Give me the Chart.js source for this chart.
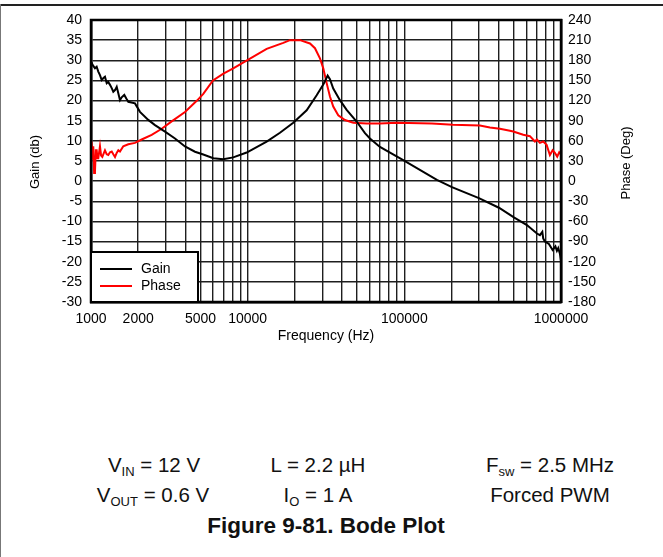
<!DOCTYPE html>
<html>
<head>
<meta charset="utf-8">
<script src="https://cdn.jsdelivr.net/npm/chart.js@4.4.1/dist/chart.umd.min.js"></script>
<style>
  body { margin: 0; background: #fff; width: 663px; height: 557px; position: relative; overflow: hidden;
         font-family: "Liberation Sans", Arial, sans-serif; color: #111; }
  #frameTop { position: absolute; left: 0; top: 4px; width: 663px; height: 2px; background: #222; }
  #frameLeft { position: absolute; left: 0; top: 4px; width: 1px; height: 553px; background: #777; }
  #chart { position: absolute; left: 0; top: 0; }
  .cond { position: absolute; font-size: 20.5px; line-height: 24px; white-space: nowrap; transform: translateX(-50%); }
  .cond sub { font-size: 13px; vertical-align: baseline; position: relative; top: 4px; }
  .title { font-weight: bold; font-size: 22.5px; }
</style>
</head>
<body>
<div id="frameTop"></div>
<div id="frameLeft"></div>
<canvas id="chart" width="663" height="350"></canvas>

<div class="cond" style="left:154px; top:453px">V<sub>IN</sub> = 12 V</div>
<div class="cond" style="left:318px; top:453px">L = 2.2 µH</div>
<div class="cond" style="left:550px; top:453px">F<sub>sw</sub> = 2.5 MHz</div>
<div class="cond" style="left:153px; top:483px">V<sub>OUT</sub> = 0.6 V</div>
<div class="cond" style="left:318px; top:483px">I<sub>O</sub> = 1 A</div>
<div class="cond" style="left:550px; top:483px">Forced PWM</div>
<div class="cond title" style="left:326px; top:514px">Figure 9-81. Bode Plot</div>

<script>
// 게인 곡선 (Hz, dB) - 그림에서 읽은 값
const gainFreq = [1000, 1010, 1034, 1060, 1087, 1113, 1141, 1170, 1200, 1228, 1260, 1289, 1322, 1356, 1388,
  1423, 1459, 1494, 1531, 1570, 1631, 1680, 1730, 1909, 2054, 2321, 2561, 2967, 3436, 3980, 4610, 5208,
  6033, 6988, 8091, 9853, 13220, 16076, 19543, 23800, 27570, 30380, 31150, 32400, 33510, 35180, 38810,
  42840, 49610, 56070, 60320, 69890, 98400, 161400, 201300, 299200, 401600, 500500, 605900, 701900,
  733500, 760000, 769900, 789400, 837100, 884000, 921200, 941700, 960000, 984000, 1000000];
const gainDb = [29.6, 29.3, 28.6, 28.0, 28.4, 27.2, 26.3, 25.1, 25.6, 25.9, 24.3, 24.6, 23.9, 23.1, 22.2,
  22.6, 23.4, 21.8, 20.1, 20.8, 21.4, 20.5, 19.7, 19.3, 17.2, 15.2, 13.9, 12.3, 10.6, 8.6, 7.3, 6.6,
  5.7, 5.45, 5.9, 7.1, 9.8, 12.0, 14.5, 17.6, 21.3, 24.0, 24.8, 26.2, 25.3, 23.0, 20.1,
  17.7, 14.8, 11.9, 10.6, 8.5, 5.2, 0.3, -1.5, -4.2, -6.6, -9.0, -10.9, -13.0,
  -13.4, -12.6, -14.2, -15.0, -15.6, -17.1, -16.2, -17.3, -16.6, -18.0, -19.8];

// 위상 곡선 (Hz, deg)
const phaseFreq = [1000, 1005, 1010, 1022, 1034, 1047, 1060, 1073, 1087, 1100, 1113, 1141, 1160, 1181, 1228,
  1260, 1289, 1322, 1356, 1388, 1423, 1459, 1494, 1531, 1607, 1730, 1909, 2106, 2440, 2827, 3273, 3980,
  4749, 5208, 6006, 7000, 8091, 9897, 13220, 16876, 18620, 21570, 24982, 26887, 28930, 30380, 31930, 33510,
  35180, 37860, 41780, 47200, 57450, 69890, 89700, 150000, 204300, 303700, 351800, 407400, 472000,
  495400, 574000, 633200, 681300, 701900, 733500, 769900, 809300, 849500, 884000, 914400, 945800,
  973900, 1000000];
const phaseDeg = [58, 36, 59, 32, 52, 12, 14, 46, 46, 34, 34, 52, 38, 36, 46,
  40, 39, 43, 44, 40, 36, 42, 46, 44, 52, 55, 57, 62, 69, 78, 89, 103,
  120, 130, 150, 160, 168, 180, 197, 206, 210, 210, 205, 198, 183, 168, 146, 126,
  111, 98, 91, 87, 86, 86, 87, 86, 84, 83, 80, 78, 75,
  74, 69, 67, 59, 62, 57, 59, 54, 39, 46, 42, 36.5,
  43, 40];

const xTickLabels = [1000, 2000, 5000, 10000, 100000, 1000000];
const gainMin = -30, gainMax = 40, gainStep = 5;
const phaseMin = -180, phaseMax = 240, phaseStep = 30;
const seriesNames = ['Gain', 'Phase'];
const seriesColors = ['#000000', '#ff0000'];
const axisTitles = ['Frequency (Hz)', 'Gain (db)', 'Phase (Deg)'];

// 로그 격자 (1..9 x 10^n)
const gridFreqs = [];
for (let d = 1000; d < 1000000; d *= 10) {
  for (let m = 1; m < 10; m++) gridFreqs.push(m * d);
}
gridFreqs.push(1000000);

function toPoints(xs, ys) {
  return xs.map((x, i) => ({ x: x, y: ys[i] }));
}

const font = 'Liberation Sans, Arial, sans-serif';

// 테두리, 축 제목, 범례를 직접 그리는 플러그인
const framePlugin = {
  id: 'frame',
  afterDraw(chart) {
    const ctx = chart.ctx;
    const a = chart.chartArea;
    ctx.save();
    ctx.strokeStyle = '#000';
    ctx.lineWidth = 2.5;
    ctx.strokeRect(a.left, a.top, a.right - a.left, a.bottom - a.top);

    // 축 제목 (세로, 아래에서 위로)
    ctx.fillStyle = '#000';
    ctx.font = '13px ' + font;
    ctx.textAlign = 'center';
    ctx.textBaseline = 'middle';
    ctx.save();
    ctx.translate(35, 162);
    ctx.rotate(-Math.PI / 2);
    ctx.fillText(axisTitles[1], 0, 0);
    ctx.restore();
    ctx.save();
    ctx.translate(626, 163);
    ctx.rotate(-Math.PI / 2);
    ctx.fillText(axisTitles[2], 0, 0);
    ctx.restore();

    // 범례
    const bx = a.left, by = a.bottom - 50, bw = 107, bh = 50;
    ctx.fillStyle = '#fff';
    ctx.fillRect(bx, by, bw, bh);
    ctx.lineWidth = 2;
    ctx.strokeStyle = '#000';
    ctx.strokeRect(bx, by, bw, bh);
    ctx.font = '14px ' + font;
    ctx.textAlign = 'left';
    seriesNames.forEach((name, i) => {
      const y = by + 17 + i * 17;
      ctx.strokeStyle = seriesColors[i];
      ctx.lineWidth = 2;
      ctx.beginPath();
      ctx.moveTo(bx + 9, y);
      ctx.lineTo(bx + 41, y);
      ctx.stroke();
      ctx.fillStyle = '#000';
      ctx.fillText(name, bx + 50, y);
    });
    ctx.restore();
  }
};

new Chart(document.getElementById('chart'), {
  type: 'line',
  data: {
    datasets: [
      { label: seriesNames[0], data: toPoints(gainFreq, gainDb), borderColor: seriesColors[0],
        borderWidth: 2, pointRadius: 0, tension: 0, yAxisID: 'y' },
      { label: seriesNames[1], data: toPoints(phaseFreq, phaseDeg), borderColor: seriesColors[1],
        borderWidth: 2, pointRadius: 0, tension: 0, yAxisID: 'y1' }
    ]
  },
  options: {
    responsive: false,
    animation: false,
    layout: { padding: { top: 20, left: 0, right: 0, bottom: 0 } },
    plugins: { legend: { display: false }, tooltip: { enabled: false } },
    scales: {
      x: {
        type: 'logarithmic', min: 1000, max: 1000000,
        afterBuildTicks: (scale) => { scale.ticks = gridFreqs.map(v => ({ value: v })); },
        ticks: {
          autoSkip: false, maxRotation: 0, minRotation: 0, color: '#000', padding: 9,
          font: { size: 14, family: font },
          callback: (v) => xTickLabels.includes(Math.round(v)) ? String(Math.round(v)) : ''
        },
        grid: { color: '#1e1e1e', lineWidth: 1.4, drawTicks: false },
        border: { color: '#000', width: 2.5 },
        title: { display: true, text: axisTitles[0], color: '#000', font: { size: 14, family: font },
                 padding: { top: 0, bottom: 5 } },
        afterFit: (scale) => { scale.height = 48; }
      },
      y: {
        position: 'left', min: gainMin, max: gainMax,
        ticks: { stepSize: gainStep, color: '#000', padding: 9, font: { size: 14, family: font } },
        grid: { color: '#1e1e1e', lineWidth: 1.4, drawTicks: false },
        border: { color: '#000', width: 2.5 },
        afterFit: (scale) => { scale.width = 91; }
      },
      y1: {
        position: 'right', min: phaseMin, max: phaseMax,
        ticks: { stepSize: phaseStep, color: '#000', padding: 7, font: { size: 14, family: font } },
        grid: { display: false, drawTicks: false },
        border: { color: '#000', width: 2.5 },
        afterFit: (scale) => { scale.width = 102; }
      }
    }
  },
  plugins: [framePlugin]
});
</script>
</body>
</html>
